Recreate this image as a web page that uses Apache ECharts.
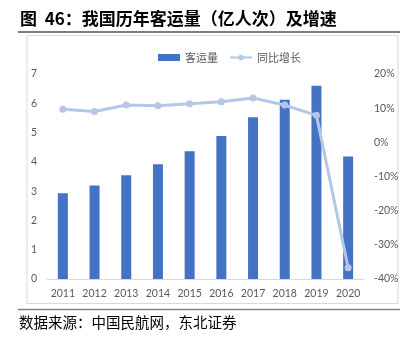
<!DOCTYPE html>
<html>
<head>
<meta charset="utf-8">
<script src="https://cdn.jsdelivr.net/npm/echarts@6/dist/echarts.min.js"></script>
<style>html,body{margin:0;padding:0;background:#fff}#c{width:405px;height:338px}</style>
</head>
<body>
<div id="c"></div>
<script>
var years = ['2011','2012','2013','2014','2015','2016','2017','2018','2019','2020'];
var passengers = [2.93, 3.19, 3.54, 3.92, 4.36, 4.88, 5.52, 6.12, 6.60, 4.18];
var growth = [9.7, 9.0, 10.9, 10.7, 11.3, 11.9, 13.0, 10.9, 7.9, -36.7];
var leftTicks = {min: 0, max: 7, interval: 1};
var rightTicks = {min: -40, max: 20, interval: 10};

var chart = echarts.init(document.getElementById('c'), null, {renderer: 'canvas'});
var lab = {color: '#595959', fontSize: 10.5, fontFamily: 'Lato, "Noto Sans", sans-serif'};
chart.setOption({
  animation: false,
  backgroundColor: '#fff',
  graphic: [
    {type: 'text', left: 20, top: 10, style: {text: '图  46：我国历年客运量（亿人次）及增速', fontSize: 17, fontWeight: 'bold', fontFamily: '"Noto Sans CJK SC", sans-serif', fill: '#000'}},
    {type: 'line', shape: {x1: 18, y1: 32, x2: 400, y2: 32}, style: {stroke: '#000', lineWidth: 1.2}},
    {type: 'rect', shape: {x: 27, y: 35.5, width: 371, height: 268}, style: {fill: 'none', stroke: '#d9d9d9', lineWidth: 1}},
    {type: 'line', shape: {x1: 18, y1: 309.5, x2: 400, y2: 309.5}, style: {stroke: '#808080', lineWidth: 1.5}},
    {type: 'text', left: 19, top: 315, style: {text: '数据来源：中国民航网，东北证券', fontSize: 14.5, fontFamily: '"Noto Sans CJK SC", sans-serif', fill: '#000'}}
  ],
  legend: {
    left: 153, top: 47,
    itemWidth: 22, itemHeight: 7, itemGap: 11,
    textStyle: {color: '#595959', fontSize: 11, fontFamily: '"Noto Sans CJK SC", sans-serif'},
    data: [{name: '客运量', icon: 'rect'}, {name: '同比增长'}]
  },
  grid: {left: 47, right: 41, top: 74, bottom: 59, containLabel: false},
  xAxis: {
    type: 'category', data: years,
    axisLine: {lineStyle: {color: '#d9d9d9', width: 1}},
    axisTick: {show: false},
    axisLabel: Object.assign({margin: 9, interval: 0}, lab)
  },
  yAxis: [
    {type: 'value', min: leftTicks.min, max: leftTicks.max, interval: leftTicks.interval,
     axisLine: {show: false}, axisTick: {show: false}, splitLine: {show: false},
     axisLabel: Object.assign({margin: 10}, lab)},
    {type: 'value', min: rightTicks.min, max: rightTicks.max, interval: rightTicks.interval,
     position: 'right',
     axisLine: {show: false}, axisTick: {show: false}, splitLine: {show: false},
     axisLabel: Object.assign({margin: 10, formatter: '{value}%'}, lab)}
  ],
  series: [
    {name: '客运量', type: 'bar', data: passengers, barWidth: 10, itemStyle: {color: '#4472C4'}, yAxisIndex: 0},
    {name: '同比增长', type: 'line', data: growth, yAxisIndex: 1,
     symbol: 'circle', symbolSize: 7,
     lineStyle: {color: '#B4C7E7', width: 3},
     itemStyle: {color: '#B4C7E7'}}
  ]
});
</script>
</body>
</html>
